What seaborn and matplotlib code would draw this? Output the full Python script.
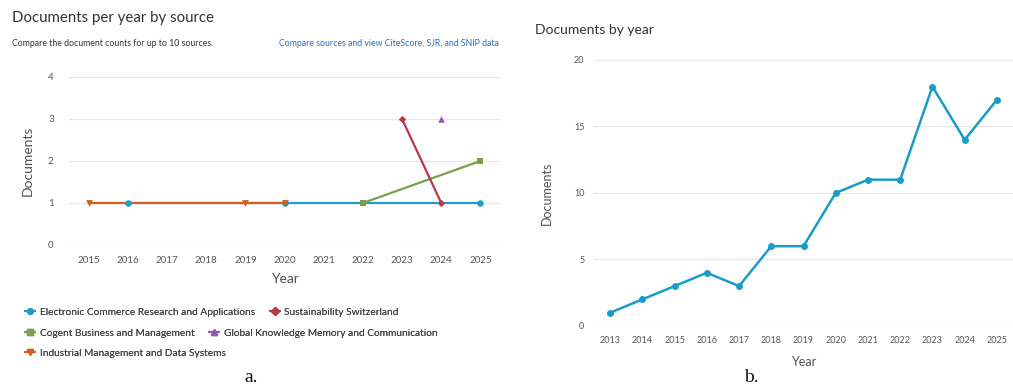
import matplotlib
matplotlib.use("Agg")
import matplotlib.pyplot as plt
from matplotlib.lines import Line2D
import seaborn as sns
import pandas as pd

# ---- data: panel a ----
source_names = [
    "Electronic Commerce Research and Applications",
    "Sustainability Switzerland",
    "Cogent Business and Management",
    "Global Knowledge Memory and Communication",
    "Industrial Management and Data Systems",
]
ecra_years = [2016, 2020, 2025]
ecra_docs = [1, 1, 1]
sust_years = [2023, 2024]
sust_docs = [3, 1]
cogent_years = [2022, 2025]
cogent_docs = [1, 2]
gkmc_years = [2024]
gkmc_docs = [3]
imds_years = [2015, 2019, 2020]
imds_docs = [1, 1, 1]
years_a = list(range(2015, 2026))
yticks_a = [0, 1, 2, 3, 4]

# ---- data: panel b ----
years_b = list(range(2013, 2026))
docs_b = [1, 2, 3, 4, 3, 6, 6, 10, 11, 11, 18, 14, 17]
yticks_b = [0, 5, 10, 15, 20]

sns.set_theme(style="white")
plt.rcParams["font.family"] = ["Lato", "DejaVu Sans"]

colors = ["#1d9fc9", "#b8394a", "#7b9f4b", "#9157b5", "#d0601c"]
markers = ["o", "D", "s", "^", "v"]
msizes = [22, 14, 20, 22, 24]
zl = [2, 4, 3, 3, 3]
series = [(ecra_years, ecra_docs), (sust_years, sust_docs), (cogent_years, cogent_docs),
          (gkmc_years, gkmc_docs), (imds_years, imds_docs)]

fig = plt.figure(figsize=(10.13, 3.92), dpi=100)
tick_col = "#555555"
lab_col = "#505050"
grid_col = "#e8e8e8"

# ---------- panel a ----------
axa = fig.add_axes([0.0681, 0.375, 0.4255, 0.4286])
for i, (xs, ys) in enumerate(series):
    df = pd.DataFrame({"Year": xs, "Documents": ys})
    if len(xs) > 1:
        sns.lineplot(data=df, x="Year", y="Documents", ax=axa, color=colors[i],
                     linewidth=1.6, zorder=zl[i])
    sns.scatterplot(data=df, x="Year", y="Documents", ax=axa, color=colors[i],
                    marker=markers[i], s=msizes[i], linewidth=0, zorder=6,
                    clip_on=False)
axa.set_xlim(2014.5, 2025.5)
axa.set_ylim(0, 4)
axa.set_xticks(years_a)
axa.set_xticklabels([str(y) for y in years_a])
axa.set_yticks(yticks_a)
axa.grid(axis="y", color=grid_col, linewidth=0.9)
axa.set_axisbelow(True)
for s in axa.spines.values():
    s.set_visible(False)
axa.tick_params(axis="both", length=0, labelsize=7, labelcolor=tick_col)
axa.tick_params(axis="y", pad=11)
axa.tick_params(axis="x", pad=8)
axa.set_xlabel("Year", fontsize=10, color=lab_col, labelpad=6)
axa.set_ylabel("Documents", fontsize=10, color=lab_col, labelpad=10)

fig.text(12 / 1013, 1 - 18 / 392, "Documents per year by source", fontsize=10.8,
         color="#333333", va="center", ha="left")
fig.text(12 / 1013, 1 - 44 / 392, "Compare the document counts for up to 10 sources.",
         fontsize=6.3, color="#333333", va="center", ha="left")
fig.text(499 / 1013, 1 - 44 / 392, "Compare sources and view CiteScore, SJR, and SNIP data",
         fontsize=6.3, color="#2a6fb5", va="center", ha="right")

# legend (flow layout, three rows)
handles = [Line2D([0], [0], color=colors[i], marker=markers[i], markersize=4,
                  linewidth=1.6) for i in range(5)]
rows = [([0, 1], 312), ([2, 3], 333), ([4], 353)]
for idx, ypix in rows:
    leg = fig.legend([handles[k] for k in idx], [source_names[k] for k in idx],
                     loc="center left", bbox_to_anchor=(25 / 1013, 1 - ypix / 392),
                     ncol=len(idx), frameon=False, fontsize=7.25, handlelength=1.0,
                     handletextpad=0.45, columnspacing=1.5, borderpad=0, borderaxespad=0)
    for t in leg.get_texts():
        t.set_color("#444444")
    fig.add_artist(leg)

# ---------- panel b ----------
axb = fig.add_axes([0.5864, 0.1684, 0.4136, 0.6786])
dfb = pd.DataFrame({"Year": years_b, "Documents": docs_b})
sns.lineplot(data=dfb, x="Year", y="Documents", ax=axb, color="#1b9cc7",
             linewidth=1.8, marker="o", markersize=5, markeredgewidth=0)
axb.set_xlim(2012.5, 2025.5)
axb.set_ylim(0, 20)
axb.set_xticks(years_b)
axb.set_xticklabels([str(y) for y in years_b])
axb.set_yticks(yticks_b)
axb.grid(axis="y", color=grid_col, linewidth=0.9)
axb.set_axisbelow(True)
for s in axb.spines.values():
    s.set_visible(False)
axb.tick_params(axis="both", length=0, labelsize=6.5, labelcolor=tick_col)
axb.tick_params(axis="y", pad=7)
axb.tick_params(axis="x", pad=7)
axb.set_xlabel("Year", fontsize=9, color=lab_col, labelpad=8)
axb.set_ylabel("Documents", fontsize=9, color=lab_col, labelpad=15)

fig.text(535 / 1013, 1 - 30 / 392, "Documents by year", fontsize=10,
         color="#333333", va="center", ha="left")

# panel letters
fig.text(251 / 1013, 1 - 378 / 392, "a.", fontsize=14, family="Liberation Serif",
         color="#111111", ha="center", va="center")
fig.text(751 / 1013, 1 - 378 / 392, "b.", fontsize=14, family="Liberation Serif",
         color="#111111", ha="center", va="center")

fig.savefig("out.png", dpi=100)
